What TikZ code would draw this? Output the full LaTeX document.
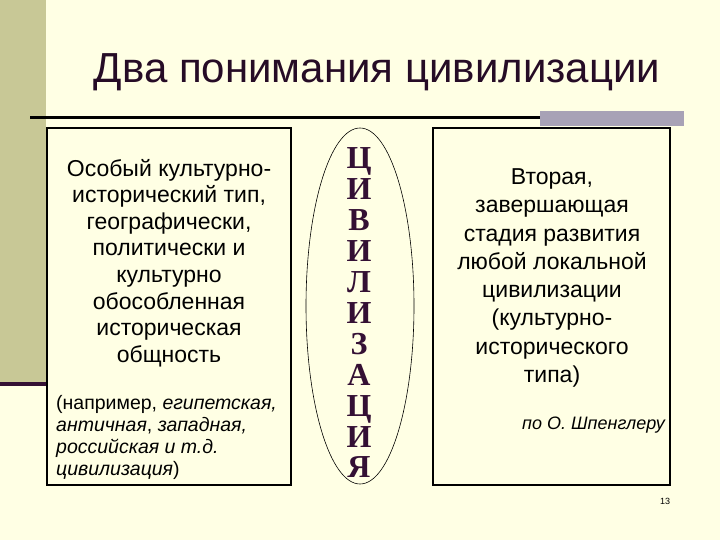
\documentclass[tikz,border=0pt]{standalone}
\usepackage{fontspec}
\setmainfont{Liberation Sans}
\newfontfamily\lettersfont{Liberation Serif}
\usetikzlibrary{shapes.geometric}

\definecolor{slidebg}{RGB}{255,255,228}
\definecolor{olive}{RGB}{200,200,150}
\definecolor{plum}{RGB}{52,16,52}
\definecolor{greybar}{RGB}{168,162,182}
\definecolor{titleink}{RGB}{38,12,38}

\begin{document}
\begin{tikzpicture}[x=1pt,y=-1pt,
  box/.style={draw, line width=1.1pt, minimum height=357pt, inner sep=0pt},
  oval/.style={draw, ellipse, line width=0.6pt, minimum width=108pt, minimum height=356pt, inner sep=0pt},
  maintext/.style={align=center, inner sep=0pt, font=\fontsize{23}{26.6}\selectfont},
  smalltext/.style={align=left, inner sep=0pt, font=\fontsize{19.5}{22}\selectfont},
  every node/.style={text=black}]

% Slide background and decorations
\fill[slidebg] (0,0) rectangle (720,540);
\useasboundingbox (0,0) rectangle (720,540);
\fill[olive] (0,0) rectangle (46,382);
\fill[plum] (0,382) rectangle (47,386);
\draw[line width=2.6pt] (30,117.5) -- (540,117.5);
\fill[greybar] (540,111) rectangle (684,126);

% Title
\node[text=titleink, font=\fontsize{42}{46}\selectfont] (title) at (377,72) {Два понимания цивилизации};

% Left column
\node[box, minimum width=244pt] (leftbox) at (169,306.5) {};
\node[maintext] (leftmain) at (169,263) {Особый культурно-\\исторический тип,\\географически,\\политически и\\культурно\\обособленная\\историческая\\общность};
\node[smalltext, anchor=west] (leftexample) at (56,437) {(например, \textit{египетская,}\\\textit{античная}, \textit{западная,}\\\textit{российская и т.д.}\\\textit{цивилизация})};

% Middle oval
\node[oval] (civ) at (360,306) {};
\node[align=center, inner sep=0pt, text=plum, font=\lettersfont\bfseries\fontsize{32}{30.9}\selectfont] (civword) at (359,313) {Ц\\И\\В\\И\\Л\\И\\З\\А\\Ц\\И\\Я};

% Right column
\node[box, minimum width=237pt] (rightbox) at (551.5,306.5) {};
\node[maintext, font=\fontsize{23}{28.3}\selectfont] (rightmain) at (552,278) {Вторая,\\завершающая\\стадия развития\\любой локальной\\цивилизации\\(культурно-\\исторического\\типа)};
\node[anchor=east, inner sep=0pt, font=\fontsize{18}{20}\selectfont\itshape] (author) at (665,425) {по О. Шпенглеру};

% Page number
\node[font=\fontsize{9}{10}\selectfont] (pagenum) at (665,501) {13};

\end{tikzpicture}
\end{document}
